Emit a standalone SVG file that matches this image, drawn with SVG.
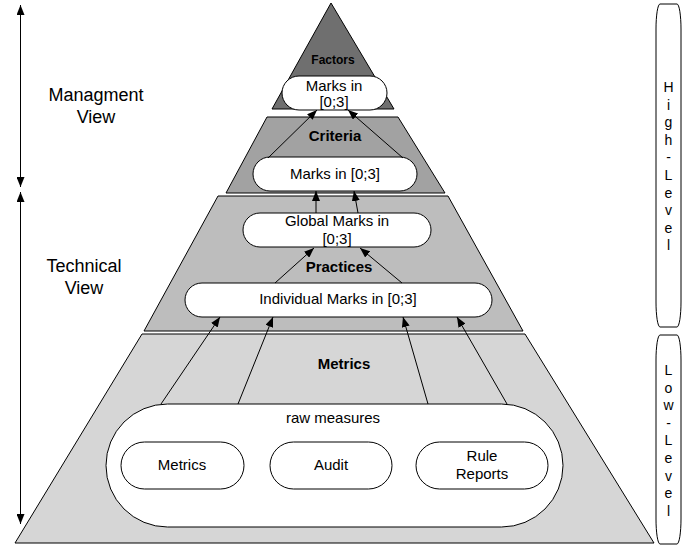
<svg xmlns="http://www.w3.org/2000/svg" width="688" height="546" viewBox="0 0 688 546">
<defs>
<marker id="ah" markerWidth="10" markerHeight="8" refX="10" refY="4" orient="auto" markerUnits="userSpaceOnUse">
<path d="M0,0 L10,4 L0,8 Z" fill="#000"/>
</marker>
<style>
text{font-family:"Liberation Sans",Arial,sans-serif;fill:#000}
.lyr{stroke:#000;stroke-width:1}
.ov{fill:#fff;stroke:#000;stroke-width:1}
.t15{font-size:15px;text-anchor:middle}
.b15{font-size:15px;font-weight:bold;text-anchor:middle}
.side{font-size:18px;text-anchor:middle}
.vert{font-size:14px;text-anchor:middle}
.con{stroke:#000;stroke-width:1;fill:none;marker-end:url(#ah)}
.box{fill:#fff;stroke:#000;stroke-width:1}
</style>
</defs>
<rect width="688" height="546" fill="#fff"/>

<g id="layer-metrics">
<polygon class="lyr" points="142,334 525,334 654,543 15,543" fill="#d6d6d6"/>
<text class="b15" x="344" y="369">Metrics</text>
</g>
<g id="layer-practices">
<polygon class="lyr" points="218,196 448,196 523,331 144,331" fill="#bdbdbd"/>
<text class="b15" x="339" y="272">Practices</text>
</g>
<g id="layer-criteria">
<polygon class="lyr" points="267,117 398,117 445,193 226,193" fill="#a2a2a2"/>
<text class="b15" x="335" y="141">Criteria</text>
</g>
<g id="layer-factors">
<polygon class="lyr" points="331,3 394,109 272,109" fill="#6f6f6f"/>
<text x="333" y="64" style="font-size:12px;font-weight:bold;text-anchor:middle">Factors</text>
</g>

<g id="factors-marks">
<rect class="ov" x="282" y="76" width="105" height="34" rx="17" ry="17"/>
<text class="t15" x="334" y="91">Marks in</text>
<text class="t15" x="334" y="107">[0;3]</text>
</g>
<g id="criteria-marks">
<rect class="ov" x="253" y="157" width="164" height="34" rx="17" ry="17"/>
<text class="t15" x="335" y="179">Marks in [0;3]</text>
</g>
<g id="global-marks">
<rect class="ov" x="243" y="213" width="188" height="34" rx="17" ry="17"/>
<text class="t15" x="337" y="226">Global Marks in</text>
<text class="t15" x="337" y="244">[0;3]</text>
</g>
<g id="individual-marks">
<rect class="ov" x="185" y="283" width="307" height="34" rx="17" ry="17"/>
<text class="t15" x="338" y="304">Individual Marks in [0;3]</text>
</g>
<g id="raw-measures">
<rect class="ov" x="106" y="404" width="457" height="123" rx="61.5" ry="61.5"/>
<text class="t15" x="333" y="423">raw measures</text>
</g>
<g id="metrics-src">
<rect class="ov" x="121" y="442" width="123" height="47" rx="23.5" ry="23.5"/>
<text class="t15" x="182" y="470">Metrics</text>
</g>
<g id="audit-src">
<rect class="ov" x="270" y="442" width="122" height="47" rx="23.5" ry="23.5"/>
<text class="t15" x="331" y="470">Audit</text>
</g>
<g id="rule-src">
<rect class="ov" x="416" y="442" width="132" height="47" rx="23.5" ry="23.5"/>
<text class="t15" x="482" y="461">Rule</text>
<text class="t15" x="482" y="479">Reports</text>
</g>

<g id="high-level">
<rect class="box" x="656" y="4" width="25" height="323" rx="4" ry="25"/>
<text class="vert" x="668.5" y="92"><tspan x="668.5">H</tspan><tspan x="668.5" dy="17.6">i</tspan><tspan x="668.5" dy="17.6">g</tspan><tspan x="668.5" dy="17.6">h</tspan><tspan x="668.5" dy="17.6">-</tspan><tspan x="668.5" dy="17.6">L</tspan><tspan x="668.5" dy="17.6">e</tspan><tspan x="668.5" dy="17.6">v</tspan><tspan x="668.5" dy="17.6">e</tspan><tspan x="668.5" dy="17.6">l</tspan></text>
</g>
<g id="low-level">
<rect class="box" x="656" y="335" width="25" height="209" rx="4" ry="25"/>
<text class="vert" x="668.5" y="375"><tspan x="668.5">L</tspan><tspan x="668.5" dy="17.6">o</tspan><tspan x="668.5" dy="17.6">w</tspan><tspan x="668.5" dy="17.6">-</tspan><tspan x="668.5" dy="17.6">L</tspan><tspan x="668.5" dy="17.6">e</tspan><tspan x="668.5" dy="17.6">v</tspan><tspan x="668.5" dy="17.6">e</tspan><tspan x="668.5" dy="17.6">l</tspan></text>
</g>

<g id="management-view">
<text class="side" x="96" y="101">Managment</text>
<text class="side" x="96" y="123">View</text>
</g>
<g id="technical-view">
<text class="side" x="84" y="272">Technical</text>
<text class="side" x="84" y="294">View</text>
</g>

<g id="connectors">
<line class="con" x1="20.5" y1="60" x2="20.5" y2="5"/>
<line class="con" x1="20.5" y1="60" x2="20.5" y2="187"/>
<line class="con" x1="20.5" y1="300" x2="20.5" y2="192"/>
<line class="con" x1="20.5" y1="300" x2="20.5" y2="524"/>

<line class="con" x1="268" y1="158" x2="317" y2="110"/>
<line class="con" x1="403" y1="158" x2="348" y2="110"/>

<line class="con" x1="316" y1="213" x2="316" y2="191"/>
<line class="con" x1="358" y1="213" x2="354" y2="191"/>

<line class="con" x1="275" y1="283" x2="314" y2="248"/>
<line class="con" x1="402" y1="283" x2="360" y2="248"/>

<line class="con" x1="161" y1="404" x2="220" y2="317"/>
<line class="con" x1="238" y1="404" x2="273" y2="317"/>
<line class="con" x1="428" y1="404" x2="403" y2="317"/>
<line class="con" x1="507" y1="404" x2="457" y2="317"/>
</g>
</svg>
